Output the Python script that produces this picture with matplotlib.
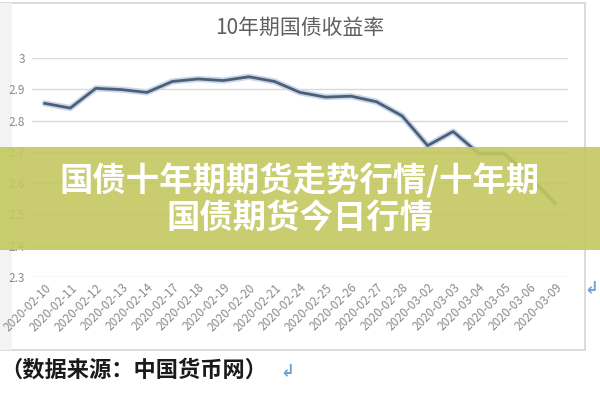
import matplotlib
matplotlib.use('Agg')
import matplotlib.pyplot as plt
from matplotlib.patches import Rectangle

plt.rcParams['font.family'] = ['Noto Sans CJK SC', 'DejaVu Sans']

# 10年期国债收益率 (%)
dates = ['2020-02-10', '2020-02-11', '2020-02-12', '2020-02-13', '2020-02-14',
         '2020-02-17', '2020-02-18', '2020-02-19', '2020-02-20', '2020-02-21',
         '2020-02-24', '2020-02-25', '2020-02-26', '2020-02-27', '2020-02-28',
         '2020-03-02', '2020-03-03', '2020-03-04', '2020-03-05', '2020-03-06',
         '2020-03-09']
yields = [2.855, 2.840, 2.903, 2.899, 2.890, 2.925, 2.933, 2.928, 2.940, 2.925,
          2.890, 2.875, 2.878, 2.860, 2.815, 2.720, 2.765, 2.695, 2.695, 2.620,
          2.535]
y_ticks = [2.3, 2.4, 2.5, 2.6, 2.7, 2.8, 2.9, 3.0]
y_labels = ['2.3', '2.4', '2.5', '2.6', '2.7', '2.8', '2.9', '3']

chart_title = '10年期国债收益率'
banner_text = '国债十年期期货走势行情/十年期\n国债期货今日行情'
source_text = '（数据来源：中国货币网）'

W, H = 600, 400
fig = plt.figure(figsize=(6, 4), dpi=100)
fig.patch.set_facecolor('white')


def fx(px):
    return px / W


def fy(py):
    return 1 - py / H


# chart frame
fig.patches.append(Rectangle((fx(-2), fy(350)), fx(587), 347 / H, transform=fig.transFigure,
                             facecolor='none', edgecolor='#d4d4d4', lw=1.2, zorder=0))
fig.patches.append(Rectangle((0, fy(350)), fx(12), 347 / H, transform=fig.transFigure,
                             facecolor='#f3f3f3', edgecolor='none', zorder=0))

ax = fig.add_axes([fx(32), fy(277), fx(568 - 32), (277 - 58) / H])
ax.set_zorder(2)
ax.set_facecolor('none')
x = list(range(len(dates)))
ax.plot(x, yields, color='#c9d7ea', lw=4.5, solid_capstyle='round', zorder=2)
ax.plot(x, yields, color='#4d5f78', lw=2, zorder=3)
ax.set_xlim(-0.5, len(dates) - 0.5)
ax.set_ylim(2.3, 3.0)
ax.set_yticks(y_ticks)
ax.set_yticklabels(y_labels)
ax.set_xticks(x)
ax.set_xticklabels(dates, rotation=45, ha='right', va='top', rotation_mode='anchor')
ax.grid(axis='y', color='#d9d9d9', lw=1)
ax.set_axisbelow(True)
for s in ax.spines.values():
    s.set_visible(False)
ax.tick_params(axis='both', length=0, colors='#8a8a8a')
ax.tick_params(axis='y', labelsize=8.5, pad=5)
ax.tick_params(axis='x', labelsize=8.5, pad=3)

fig.text(0.5, fy(28), chart_title, ha='center', va='center', fontsize=15, color='#5f5f5f')

# overlay banner
fig.patches.append(Rectangle((0, fy(250)), 1, 103 / H, transform=fig.transFigure,
                             facecolor='#c3c85f', edgecolor='none', alpha=0.9, zorder=5))
fig.text(0.5, fy(199), banner_text, ha='center', va='center', fontsize=24,
         fontweight='bold', color='white', linespacing=1.15, zorder=6)

fig.text(fx(0), fy(370), source_text, ha='left', va='center', fontsize=16,
         fontweight='bold', color='#1a1a1a')
fig.text(fx(280), fy(370), '↲', ha='left', va='center', fontsize=12,
         fontweight='bold', color='#6fa3d6', family=['DejaVu Sans'])
fig.text(fx(584), fy(287), '↲', ha='left', va='center', fontsize=12,
         fontweight='bold', color='#6fa3d6', family=['DejaVu Sans'])

fig.savefig('out.png', dpi=100)
